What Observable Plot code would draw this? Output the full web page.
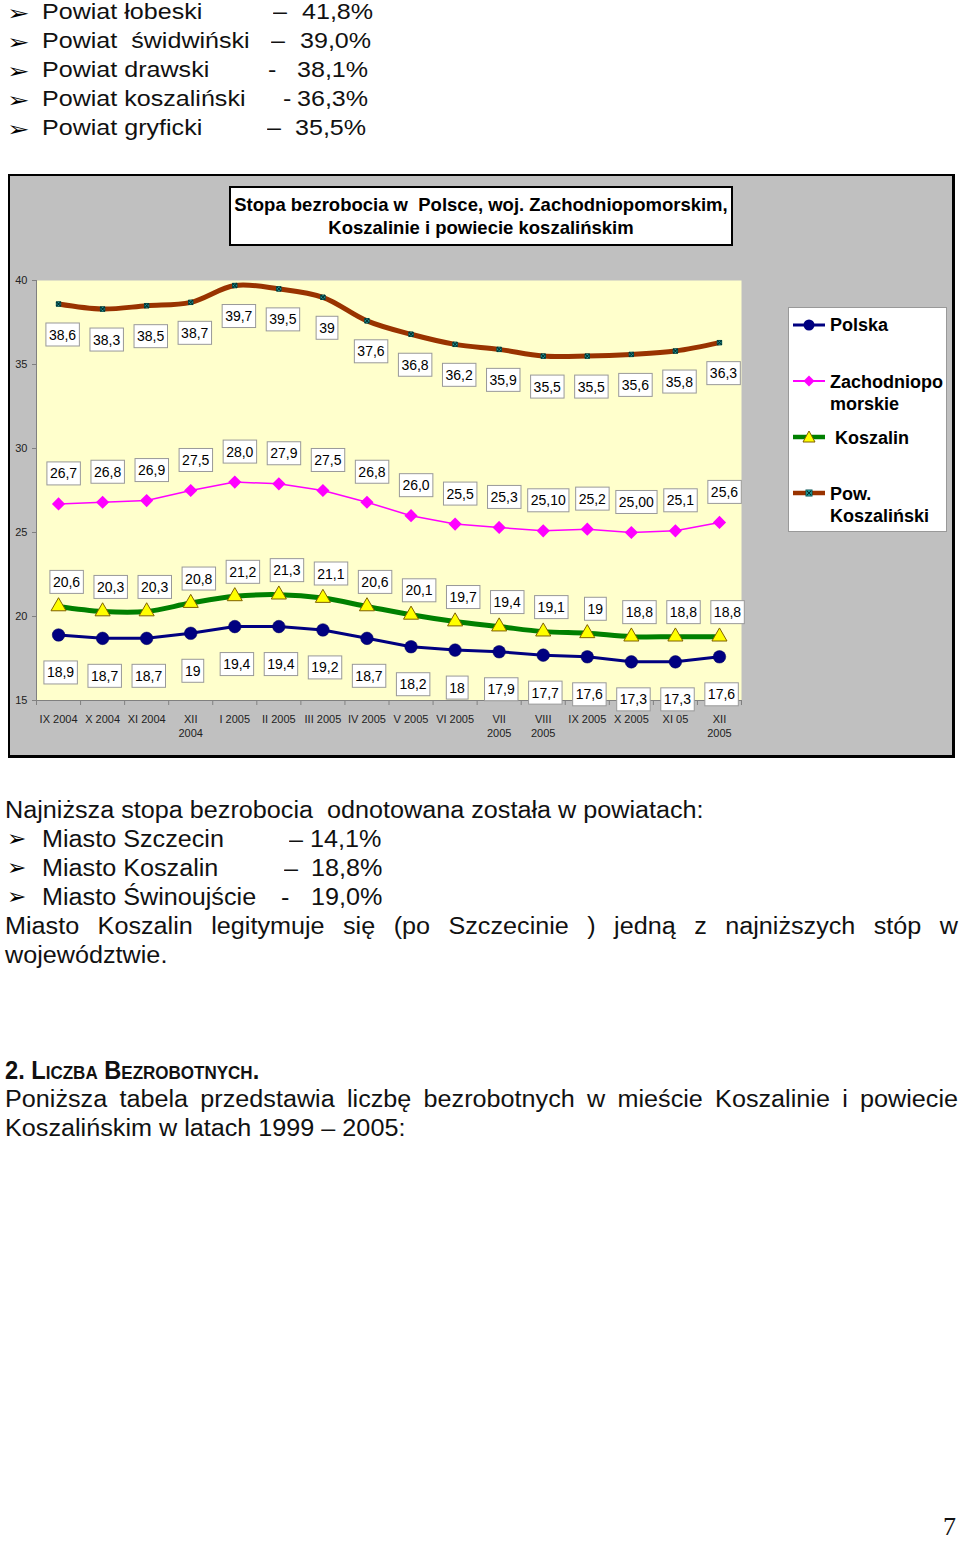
<!DOCTYPE html>
<html><head><meta charset="utf-8">
<script src="https://cdn.jsdelivr.net/npm/d3@7"></script>
<script src="https://cdn.jsdelivr.net/npm/@observablehq/plot@0.6"></script>
<style>
body{margin:0;background:#fff;}
#page{position:relative;width:960px;height:1543px;overflow:hidden;font-family:"Liberation Sans",Arial,sans-serif;color:#111;}
.t{position:absolute;white-space:pre;line-height:1;transform-origin:0 0;}
#frame{position:absolute;left:8px;top:174px;width:942px;height:579px;background:#C0C0C0;border:2px solid #000;border-right-width:3px;border-bottom-width:3px;}
#frame svg{position:absolute;left:0;top:0;}
#title{position:absolute;left:229px;top:186px;width:500px;height:51px;padding-top:5px;background:#fff;border:2px solid #000;font-weight:bold;font-size:18.5px;line-height:23px;text-align:center;white-space:pre;box-sizing:content-box;color:#000;}
#legend{position:absolute;left:788px;top:307px;width:157px;height:223px;background:#fff;border:1px solid #999;}
.lg{position:absolute;white-space:pre;line-height:1;font-weight:bold;font-size:18px;color:#000;}
.sw{position:absolute;}
</style></head><body><div id="page"></div>
<script>
// ---------- data ----------
const months = ["IX 2004","X 2004","XI 2004","XII\n2004","I 2005","II 2005","III 2005","IV 2005","V 2005","VI 2005","VII\n2005","VIII\n2005","IX 2005","X 2005","XI 05","XII\n2005"];
const polska = ["18,9","18,7","18,7","19","19,4","19,4","19,2","18,7","18,2","18","17,9","17,7","17,6","17,3","17,3","17,6"];
const zachodniopomorskie = ["26,7","26,8","26,9","27,5","28,0","27,9","27,5","26,8","26,0","25,5","25,3","25,10","25,2","25,00","25,1","25,6"];
const koszalin = ["20,6","20,3","20,3","20,8","21,2","21,3","21,1","20,6","20,1","19,7","19,4","19,1","19","18,8","18,8","18,8"];
const powKoszalinski = ["38,6","38,3","38,5","38,7","39,7","39,5","39","37,6","36,8","36,2","35,9","35,5","35,5","35,6","35,8","36,3"];
const yTicks = [15, 20, 25, 30, 35, 40];
const seriesNames = ["Polska", "Zachodniopo\nmorskie", " Koszalin", "Pow.\nKoszaliński"];

const topList = [
  ["Powiat łobeski", "–", "41,8%"],
  ["Powiat  świdwiński", "–", "39,0%"],
  ["Powiat drawski", "-", "38,1%"],
  ["Powiat koszaliński", "-", "36,3%"],
  ["Powiat gryficki", "–", "35,5%"]
];
const lowList = [
  ["Miasto Szczecin", "–", "14,1%"],
  ["Miasto Koszalin", "–", "18,8%"],
  ["Miasto Świnoujście", "-", "19,0%"]
];

// ---------- page text ----------
const page = document.getElementById("page");
function txt(s, x, base, size, sx, extra) {
  const el = document.createElement("div");
  el.className = "t";
  el.textContent = s;
  el.style.left = x + "px";
  el.style.top = (base - 0.8465 * size) + "px";
  el.style.fontSize = size + "px";
  if (sx !== 1) el.style.transform = `scaleX(${sx})`;
  if (extra) Object.assign(el.style, extra);
  page.appendChild(el);
  return el;
}
const dashX1 = [273, 271, 268, 283, 267], valX1 = [302, 300, 297, 297, 295];
topList.forEach((r, i) => {
  const b = 20 + 29 * i;
  txt("➢", 7, b, 20, 1.35, {fontFamily: '"DejaVu Sans", sans-serif', color: "#000"});
  txt(r[0], 42, b, 22, 1.14);
  txt(r[1], dashX1[i], b, 22, 1.14);
  txt(r[2], valX1[i], b, 22, 1.14);
});
txt("Najniższa stopa bezrobocia  odnotowana została w powiatach:", 5, 818, 23, 1.095);
const dashX2 = [289, 284, 281], valX2 = [310, 311, 311];
lowList.forEach((r, i) => {
  const b = 847 + 29 * i;
  txt("➢", 7, b, 22, 1.05, {fontFamily: '"DejaVu Sans", sans-serif', color: "#000"});
  txt(r[0], 42, b, 23, 1.095);
  txt(r[1], dashX2[i], b, 23, 1.095);
  txt(r[2], valX2[i], b, 23, 1.095);
});
function para(s, base, size, sx) {
  const el = document.createElement("div");
  el.textContent = s;
  Object.assign(el.style, {position: "absolute", left: "5px", width: (953 / sx) + "px",
    top: (base - ((29 - 1.117 * size) / 2 + 0.905 * size)) + "px", fontSize: size + "px",
    lineHeight: "29px", textAlign: "justify", transform: `scaleX(${sx})`, transformOrigin: "0 0"});
  page.appendChild(el);
}
para("Miasto Koszalin legitymuje się (po Szczecinie ) jedną z najniższych stóp w województwie.", 934, 23, 1.095);
txt("2. Liczba Bezrobotnych.", 5, 1079, 25, 0.945, {fontWeight: "bold", fontVariant: "small-caps"});
para("Poniższa tabela przedstawia  liczbę bezrobotnych w mieście Koszalinie i powiecie Koszalińskim w latach 1999 – 2005:", 1107, 23, 1.095);
txt("7", 943, 1536, 26, 1, {fontFamily: '"Liberation Serif", serif'});

// ---------- chart ----------
const frame = document.createElement("div");
frame.id = "frame";
page.appendChild(frame);

const rows = arr => arr.map((l, i) => ({i, label: l, value: +l.replace(",", ".")}));
const P = rows(polska), Z = rows(zachodniopomorskie), K = rows(koszalin), W = rows(powKoszalinski);
const lab = {fontSize: 14, fill: "#000"};

const chart = Plot.plot({
  width: 942, height: 579,
  marginLeft: 26, marginRight: 211, marginTop: 104, marginBottom: 55,
  x: {type: "linear", domain: [-0.5, 15.5]},
  y: {domain: [15, 40]},
  style: {background: "transparent", fontFamily: '"Liberation Sans", Arial, sans-serif', overflow: "visible"},
  marks: [
    Plot.frame({fill: "#FFFFCC", stroke: "none"}),
    Plot.ruleX([-0.5], {stroke: "#808080"}),
    Plot.ruleY([15], {stroke: "#808080"}),
    Plot.axisY({ticks: yTicks, tickSize: 4, tickPadding: 5, fontSize: 11, stroke: "#808080", fill: "#222", label: null}),
    Plot.axisX({ticks: d3.range(17).map(i => i - 0.5), tickSize: 5, tickFormat: () => "", stroke: "#808080", label: null}),
    Plot.axisX({ticks: d3.range(16), tickSize: 0, tickPadding: 13, tickFormat: i => months[i], fontSize: 11, lineHeight: 1.25, fill: "#222", label: null}),
    Plot.line(W, {x: "i", y: "value", stroke: "#993300", strokeWidth: 5, curve: "catmull-rom"}),
    Plot.line(Z, {x: "i", y: "value", stroke: "#FF00FF", strokeWidth: 1.5}),
    Plot.line(K, {x: "i", y: "value", stroke: "#008000", strokeWidth: 5, curve: "catmull-rom"}),
    Plot.line(P, {x: "i", y: "value", stroke: "#000080", strokeWidth: 3}),
    Plot.dot(P, {x: "i", y: "value", r: 6.3, fill: "#000080", stroke: "#000060", strokeWidth: 0.5}),
    Plot.dot(Z, {x: "i", y: "value", symbol: "diamond2", r: 5, fill: "#FF00FF", stroke: "#FF00FF"}),
    Plot.dot(K, {x: "i", y: "value", symbol: "triangle", r: 5.6, fill: "#FFFF00", stroke: "#7F6000", strokeWidth: 1}),
    Plot.dot(W, {x: "i", y: "value", symbol: "square", r: 2.5, fill: "#33CCCC", stroke: "#005050", strokeWidth: 1}),
    Plot.dot(W, {x: "i", y: "value", symbol: "times", r: 2.2, stroke: "#003030", strokeWidth: 1.2}),
    Plot.text(P, {x: "i", y: "value", text: "label", dx: 2, dy: 38, ...lab}),
    Plot.text(Z, {x: "i", y: "value", text: "label", dx: 5, dy: -30, ...lab}),
    Plot.text(K, {x: "i", y: "value", text: "label", dx: 8, dy: -24, ...lab}),
    Plot.text(W, {x: "i", y: "value", text: "label", dx: 4, dy: 31, ...lab})
  ]
});
frame.appendChild(chart);

// label boxes (behind each data label of the four text marks)
const NS = "http://www.w3.org/2000/svg";
chart.querySelectorAll('g[aria-label="text"] text').forEach(t => {
  const b = t.getBBox();
  const r = document.createElementNS(NS, "rect");
  r.setAttribute("x", b.x - 3);
  r.setAttribute("y", b.y - 3.5);
  r.setAttribute("width", b.width + 6);
  r.setAttribute("height", b.height + 7);
  r.setAttribute("fill", "#fff");
  r.setAttribute("stroke", "#999");
  r.setAttribute("stroke-width", "1");
  const tr = t.getAttribute("transform");
  if (tr) r.setAttribute("transform", tr);
  t.parentNode.insertBefore(r, t);
});

// title
const title = document.createElement("div");
title.id = "title";
title.textContent = "Stopa bezrobocia w  Polsce, woj. Zachodniopomorskim,\nKoszalinie i powiecie koszalińskim";
page.appendChild(title);

// legend
const legend = document.createElement("div");
legend.id = "legend";
page.appendChild(legend);
const swatches = [
  `<line x1="1" y1="8" x2="33" y2="8" stroke="#000080" stroke-width="3"/><circle cx="17" cy="8" r="5.5" fill="#000080"/>`,
  `<line x1="1" y1="8" x2="33" y2="8" stroke="#FF00FF" stroke-width="2"/><polygon points="17,2.5 22.5,8 17,13.5 11.5,8" fill="#FF00FF"/>`,
  `<line x1="1" y1="8" x2="33" y2="8" stroke="#008000" stroke-width="4.5"/><polygon points="17,2 23,13 11,13" fill="#FFFF00" stroke="#7F6000" stroke-width="1"/>`,
  `<line x1="1" y1="8" x2="33" y2="8" stroke="#993300" stroke-width="4.5"/><rect x="14" y="5" width="6" height="6" fill="#33CCCC" stroke="#005050"/><path d="M15,6L19,10M19,6L15,10" stroke="#003030" stroke-width="1.2"/>`
];
const swY = [325, 381, 437, 493];
const lgBase = [331, 388, 444, 500];
seriesNames.forEach((name, k) => {
  const s = document.createElementNS(NS, "svg");
  s.setAttribute("class", "sw");
  s.setAttribute("width", 34); s.setAttribute("height", 16);
  s.style.left = "792px"; s.style.top = (swY[k] - 8) + "px";
  s.innerHTML = swatches[k];
  page.appendChild(s);
  name.split("\n").forEach((ln, j) => {
    const el = document.createElement("div");
    el.className = "lg";
    el.textContent = ln;
    el.style.left = "830px";
    el.style.top = (lgBase[k] + j * 22.5 - 0.8465 * 18) + "px";
    page.appendChild(el);
  });
});
</script>
</body></html>
